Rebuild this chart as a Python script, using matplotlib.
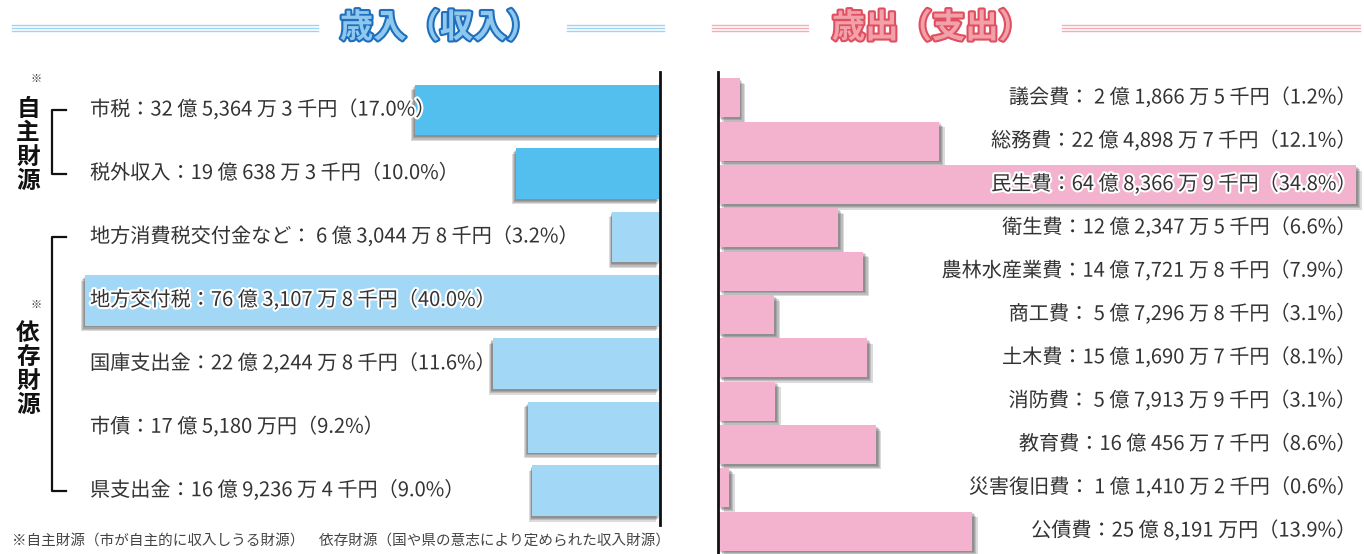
import matplotlib
matplotlib.use("Agg")
import matplotlib.pyplot as plt
import matplotlib.patheffects as pe
from matplotlib.lines import Line2D

plt.rcParams['font.family'] = ['Noto Sans CJK JP', 'DejaVu Sans']

# 歳入（収入）
rev_items = ["市税", "税外収入", "地方消費税交付金など", "地方交付税", "国庫支出金", "市債", "県支出金"]
rev_amount_text = ["32 億 5,364 万 3 千円", "19 億 638 万 3 千円", " 6 億 3,044 万 8 千円",
                   "76 億 3,107 万 8 千円", "22 億 2,244 万 8 千円", "17 億 5,180 万円",
                   "16 億 9,236 万 4 千円"]
rev_amounts = [32.53643, 19.06383, 6.30448, 76.31078, 22.22448, 17.5180, 16.92364]  # 億円
rev_pct = [17.0, 10.0, 3.2, 40.0, 11.6, 9.2, 9.0]
rev_own = [True, True, False, False, False, False, False]  # 自主財源かどうか

# 歳出（支出）
exp_items = ["議会費", "総務費", "民生費", "衛生費", "農林水産業費", "商工費",
             "土木費", "消防費", "教育費", "災害復旧費", "公債費"]
exp_amount_text = [" 2 億 1,866 万 5 千円", "22 億 4,898 万 7 千円", "64 億 8,366 万 9 千円",
                   "12 億 2,347 万 5 千円", "14 億 7,721 万 8 千円", " 5 億 7,296 万 8 千円",
                   "15 億 1,690 万 7 千円", " 5 億 7,913 万 9 千円", "16 億 456 万 7 千円",
                   " 1 億 1,410 万 2 千円", "25 億 8,191 万円"]
exp_amounts = [2.18665, 22.48987, 64.83669, 12.23475, 14.77218, 5.72968,
               15.16907, 5.79139, 16.04567, 1.14102, 25.8191]  # 億円
exp_pct = [1.2, 12.1, 34.8, 6.6, 7.9, 3.1, 8.1, 3.1, 8.6, 0.6, 13.9]

W, H = 1364, 554
fig = plt.figure(figsize=(W / 100, H / 100), dpi=100)


def px_axes(x0, y0, x1, y1):
    return fig.add_axes([x0 / W, 1 - y1 / H, (x1 - x0) / W, (y1 - y0) / H])


def fx(x):
    return x / W


def fy(y):
    return 1 - y / H


def soft_shadow(dx):
    # ぼかし風の影：少しずつずらした薄い影を重ねる
    effects = [pe.SimplePatchShadow(offset=(dx * k, -k), shadow_rgbFace="#222", alpha=0.16)
               for k in (4, 3, 2, 1.2)]
    return effects + [pe.Normal()]


text_color = "#333333"
outline = [pe.withStroke(linewidth=3, foreground="white")]
label_size = 14.5

# ---- 左：歳入 ----
axl = px_axes(0, 72, 660, 525)
axl.axis("off")
axl.set_xlim(660 / 7.535, 0)
axl.set_ylim(6.54, -0.6)
rev_colors = ["#52bfee" if own else "#a2d7f5" for own in rev_own]
bars = axl.barh(range(len(rev_items)), rev_amounts, height=0.8, color=rev_colors)
for b in bars:
    b.set_path_effects(soft_shadow(-0.7))
axl.axvline(0, color="#111", lw=2, clip_on=False)
tr = axl.get_yaxis_transform()
for i, (it, at, p) in enumerate(zip(rev_items, rev_amount_text, rev_pct)):
    axl.text(90 / 660, i, f"{it}：{at}（{p:.1f}%）", transform=tr, ha="left", va="center",
             fontsize=label_size, color=text_color, path_effects=outline)

# 括弧
for top, bot in [(0, 1), (2, 6)]:
    xs = [66 / 660, 52 / 660, 52 / 660, 66 / 660]
    axl.plot(xs, [top, top, bot, bot], transform=tr, color="#111", lw=1.6, clip_on=False)

fig.text(fx(28), fy(145), "自\n主\n財\n源", ha="center", va="center", fontsize=17,
         weight="bold", color="#111", linespacing=1.0)
fig.text(fx(36), fy(79), "※", ha="center", va="center", fontsize=8, color="#333")
fig.text(fx(28), fy(369), "依\n存\n財\n源", ha="center", va="center", fontsize=17,
         weight="bold", color="#111", linespacing=1.0)
fig.text(fx(36), fy(305), "※", ha="center", va="center", fontsize=8, color="#333")

fig.text(fx(12), fy(541), "※自主財源（市が自主的に収入しうる財源）　依存財源（国や県の意志により定められた収入財源）",
         ha="left", va="center", fontsize=10.5, color="#444")

# ---- 右：歳出 ----
axr = px_axes(718, 72, 1364, 554)
axr.axis("off")
axr.set_xlim(0, 646 / 9.84)
axr.set_ylim(10.53, -0.6)
bars = axr.barh(range(len(exp_items)), exp_amounts, height=0.9, color="#f3b3ce")
for b in bars:
    b.set_path_effects(soft_shadow(1.0))
axr.axvline(0, color="#111", lw=2, clip_on=False)
tr = axr.get_yaxis_transform()
for i, (it, at, p) in enumerate(zip(exp_items, exp_amount_text, exp_pct)):
    axr.text((1356 - 718) / 646, i, f"{it}：{at}（{p:.1f}%）", transform=tr, ha="right",
             va="center", fontsize=label_size, color=text_color, path_effects=outline)

# ---- 見出し ----
fig.text(fx(440), fy(28), "歳入（収入）", ha="center", va="center", fontsize=24, weight="bold",
         color="#8ec8ee", path_effects=[pe.withStroke(linewidth=3, foreground="#1f6fbd")])
fig.text(fx(932), fy(28), "歳出（支出）", ha="center", va="center", fontsize=24, weight="bold",
         color="#f2a0a9", path_effects=[pe.withStroke(linewidth=3, foreground="#e04f60")])

for (x0, x1), col in [((12, 318), "#9fd3f2"), ((567, 664), "#9fd3f2"),
                      ((712, 808), "#f5adb5"), ((1062, 1360), "#f5adb5")]:
    for y in (25, 28, 31):
        fig.add_artist(Line2D([fx(x0), fx(x1)], [fy(y), fy(y)], color=col, lw=1.0,
                              transform=fig.transFigure))

fig.savefig("out.png", dpi=100)
